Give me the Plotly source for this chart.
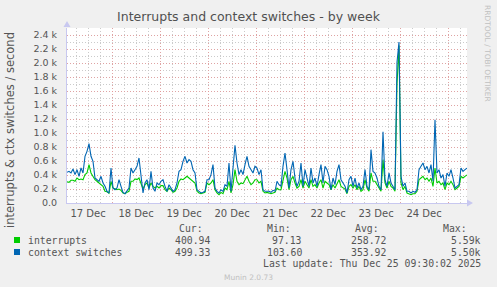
import plotly.graph_objects as go
import pandas as pd

# ---------------- data (per second), hourly samples ----------------
start_time = "2025-12-17 01:30"
end_time = "2025-12-25 09:30"

context_switches = [
    438, 452, 429, 486, 405, 476, 381, 500, 429, 667,
    738, 848, 667, 595, 357, 333, 310, 381, 286, 238,
    167, 143, 500, 214, 190, 214, 333, 238, 152, 133,
    167, 214, 500, 429, 476, 524, 643, 429, 143, 286,
    333, 190, 452, 214, 167, 286, 262, 310, 333, 238,
    167, 262, 214, 167, 190, 286, 452, 476, 595, 667,
    571, 619, 595, 476, 429, 190, 167, 143, 152, 167,
    333, 333, 405, 548, 214, 167, 143, 190, 167, 262,
    238, 571, 167, 476, 824, 571, 405, 476, 405, 548,
    667, 524, 476, 429, 524, 500, 405, 476, 190, 167,
    167, 167,
    152, 181, 167, 310, 262, 238, 524, 714, 476, 214,
    476, 595, 357, 238, 310, 571, 238, 476, 357, 238,
    500, 286, 357, 238, 405, 548, 286, 524, 476, 381,
    190, 357, 262, 452, 548, 333, 286, 238, 143, 333,
    381, 238, 357, 214, 286, 190, 238, 476, 238, 190,
    762, 452, 429, 357, 238, 190, 1019, 333, 238, 429,
    286, 238, 190, 2010, 2300, 381, 238, 286, 167, 167,
    143, 167, 152, 190, 476, 524, 571, 476, 524, 429,
    548, 310, 1190, 429, 476, 357, 405, 238, 429, 381,
    476, 357, 214, 238, 262, 500, 452, 476, 499,
]

interrupts = [
    305, 295, 324, 324, 310, 357, 333, 343, 333, 405,
    429, 548, 429, 381, 333, 310, 286, 262, 238, 167,
    160, 140, 310, 214, 200, 190, 200, 181, 143, 133,
    152, 167, 310, 310, 343, 333, 357, 286, 200, 262,
    286, 214, 286, 238, 214, 238, 214, 248, 248, 190,
    167, 214, 190, 152, 167, 214, 310, 343, 333, 357,
    381, 357, 333, 310, 286, 167, 143, 133, 143, 152,
    286, 262, 286, 333, 190, 143, 119, 152, 133, 214,
    190, 310, 143, 262, 476, 310, 262, 286, 276, 333,
    381, 310, 262, 286, 333, 333, 286, 310, 167, 143,
    152, 143,
    133, 143, 152, 214, 190, 190, 310, 452, 357, 190,
    333, 381, 286, 214, 238, 333, 214, 310, 262, 214,
    333, 238, 262, 214, 286, 333, 214, 310, 286, 262,
    190, 262, 214, 286, 333, 238, 214, 200, 133, 238,
    262, 214, 262, 190, 238, 167, 190, 333, 214, 167,
    429, 310, 310, 262, 214, 167, 619, 286, 214, 310,
    238, 214, 167, 1700, 2250, 286, 190, 238, 143, 133,
    119, 133, 133, 167, 333, 357, 381, 333, 357, 310,
    357, 238, 500, 286, 310, 262, 286, 190, 286, 262,
    310, 262, 190, 214, 238, 381, 357, 381, 401,
]

series_names = ["interrupts", "context switches"]
series_colors = ["#00CC00", "#0066B3"]
cur_vals = [400.94, 499.33]
min_vals = [97.13, 103.60]
avg_vals = [258.72, 353.92]
max_vals = [5590, 5500]

day_labels = ["17 Dec", "18 Dec", "19 Dec", "20 Dec", "21 Dec", "22 Dec", "23 Dec", "24 Dec"]
day_label_times = ["2025-12-%02d 12:00" % d for d in range(17, 25)]
day_grid_times = ["2025-12-%02d 00:00" % d for d in range(18, 26)]
y_tick_vals = [0, 200, 400, 600, 800, 1000, 1200, 1400, 1600, 1800, 2000, 2200, 2400]
y_tick_text = ["0.0"] + ["%.1f k" % (v / 1000) for v in y_tick_vals[1:]]

title_text = "Interrupts and context switches - by week"
y_title = "interrupts &amp; ctx switches / second"
last_update = "Last update: Thu Dec 25 09:30:02 2025"

# ---------------- layout geometry ----------------
W, H = 497, 287
PL, PR, PT, PB = 67, 467, 28, 203


def pxx(x):
    return (x - PL) / (PR - PL)


def pxy(y):
    return (PB - y) / (PB - PT)


times = pd.date_range(start_time, periods=len(interrupts), freq="h")

fig = go.Figure()
fig.add_trace(go.Scatter(x=times, y=interrupts, mode="lines", name=series_names[0],
                         line=dict(color=series_colors[0], width=1.1), hoverinfo="skip"))
fig.add_trace(go.Scatter(x=times, y=context_switches, mode="lines", name=series_names[1],
                         line=dict(color=series_colors[1], width=1.1), hoverinfo="skip"))
fig.add_trace(go.Scatter(x=[], y=[], xaxis="x2", showlegend=False))

txt_color = "#555555"
mono = "DejaVu Sans Mono"
sans = "DejaVu Sans"
major_grid = "rgba(230,150,150,0.75)"
minor_grid = "rgba(190,190,190,0.8)"
dash = "1px,2px"

fig.update_layout(
    width=W, height=H,
    margin=dict(l=PL, r=W - PR, t=PT, b=H - PB, pad=0),
    paper_bgcolor="#F0F0F0", plot_bgcolor="#FFFFFF",
    showlegend=False,
    title=dict(text=title_text, x=0.5, xanchor="center", xref="container",
               y=1 - 17 / H, yanchor="middle", yref="container",
               font=dict(family=sans, size=12.5, color="#505050")),
    xaxis=dict(type="date", range=[start_time, end_time],
               tickmode="array", tickvals=day_grid_times, showticklabels=False, ticks="",
               showgrid=True, gridcolor=major_grid, griddash=dash, gridwidth=1,
               minor=dict(tick0="2025-12-17 00:00", dtick=6 * 3600 * 1000, showgrid=True,
                          gridcolor=minor_grid, griddash=dash, gridwidth=1, ticks=""),
               showline=True, linecolor="#C8C8F0", linewidth=1, zeroline=False),
    xaxis2=dict(type="date", range=[start_time, end_time], overlaying="x", anchor="y", side="bottom",
                tickmode="array", tickvals=day_label_times, ticktext=day_labels,
                showgrid=False, ticks="", ticklabelstandoff=3,
                tickfont=dict(family=sans, size=10, color=txt_color), showline=False),
    yaxis=dict(range=[0, 2500], tickmode="array", tickvals=y_tick_vals, ticktext=y_tick_text,
               showgrid=True, gridcolor=major_grid, griddash=dash, gridwidth=1,
               minor=dict(dtick=100, tick0=0, showgrid=True, gridcolor=minor_grid,
                          griddash=dash, gridwidth=1, ticks=""),
               ticks="", ticklabelstandoff=7,
               tickfont=dict(family=sans, size=9.5, color=txt_color),
               showline=True, linecolor="#C8C8F0", linewidth=1, zeroline=False),
)

shapes = []
# axis arrows
shapes.append(dict(type="path", xref="paper", yref="paper",
                   path="M %f %f L %f %f L %f %f Z" % (pxx(467), pxy(199.5), pxx(467), pxy(206.5), pxx(473), pxy(203)),
                   fillcolor="#C8C8F0", line=dict(width=0)))
shapes.append(dict(type="path", xref="paper", yref="paper",
                   path="M %f %f L %f %f L %f %f Z" % (pxx(63.5), pxy(27), pxx(70.5), pxy(27), pxx(67), pxy(21)),
                   fillcolor="#C8C8F0", line=dict(width=0)))

annotations = []


def ann(text, x, y, xanchor="left", size=9.8, color=txt_color, family=mono, angle=0):
    annotations.append(dict(text=text, x=pxx(x), y=pxy(y), xref="paper", yref="paper",
                            xanchor=xanchor, yanchor="middle", showarrow=False, textangle=angle,
                            font=dict(family=family, size=size, color=color)))


ann(y_title, 10, 130, xanchor="center", size=11.5, family=sans, angle=-90)
ann("RRDTOOL / TOBI OETIKER", 488, 53, xanchor="center", size=7.5, family=sans, color="#C0C0C0", angle=90)

# legend table
ann("Cur:", 205, 228, xanchor="right")
ann("Min:", 293, 228, xanchor="right")
ann("Avg:", 381, 228, xanchor="right")
ann("Max:", 469, 228, xanchor="right")
row_y = [240, 252]
for i in range(2):
    yy = row_y[i]
    shapes.append(dict(type="rect", xref="paper", yref="paper",
                       x0=pxx(14), x1=pxx(20), y0=pxy(yy - 3), y1=pxy(yy + 3),
                       fillcolor=series_colors[i], line=dict(width=0)))
    ann(series_names[i], 26, yy)
    ann("%.2f" % cur_vals[i], 211.5, yy, xanchor="right")
    ann("%.2f" % min_vals[i], 303.5, yy, xanchor="right")
    ann("%.2f" % avg_vals[i], 387.5, yy, xanchor="right")
    ann("%.2fk" % (max_vals[i] / 1000), 482.5, yy, xanchor="right")
ann(last_update, 482.5, 263, xanchor="right")
ann("Munin 2.0.73", 248, 277, xanchor="center", size=7.5, family=sans, color="#C0C0C0")

fig.update_layout(shapes=shapes, annotations=annotations)
fig.write_html("out.html")
